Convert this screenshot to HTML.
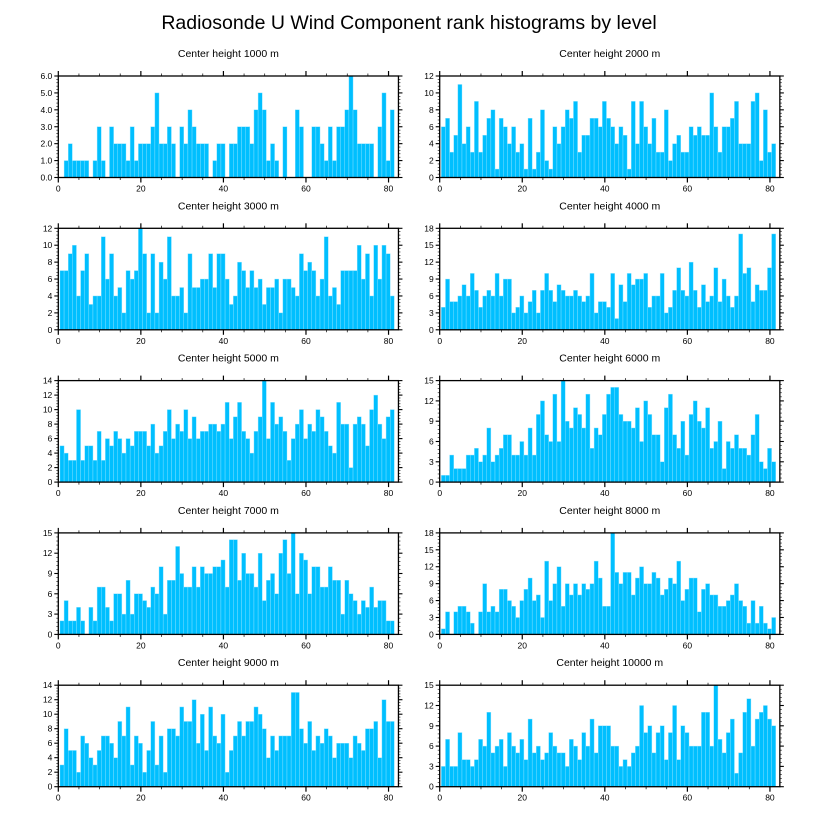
<!DOCTYPE html>
<html><head><meta charset="utf-8"><style>
html,body{margin:0;padding:0;background:#fff;}
svg{display:block;font-family:"Liberation Sans",sans-serif;}
</style></head><body>
<svg id="chart" width="818" height="824" viewBox="0 0 818 824" xmlns="http://www.w3.org/2000/svg">
<text x="409" y="29" text-anchor="middle" font-size="19.5">Radiosonde U Wind Component rank histograms by level</text>
</svg>
<script>
const levels = ["1000","2000","3000","4000","5000","6000","7000","8000","9000","10000"];
const yMaxes = [6,12,12,18,14,15,15,18,14,15];
const yStepsMajor = [1,2,2,3,2,3,3,3,2,3];
const xTicks = [0,20,40,60,80];
const counts1000 = [0,1,2,1,1,1,1,0,1,3,1,0,3,2,2,2,1,3,1,2,2,2,3,5,2,2,3,2,0,3,2,4,3,2,2,2,0,1,2,2,0,2,2,3,3,3,2,4,5,4,1,2,1,0,3,0,0,4,3,0,0,3,3,2,1,3,1,3,3,4,6,4,2,2,2,2,0,3,5,1,4];
const counts2000 = [6,7,3,5,11,4,6,3,9,3,5,7,8,1,7,6,4,6,3,4,1,7,1,3,8,2,1,6,4,6,8,7,9,3,5,5,7,7,6,9,7,6,4,6,5,1,9,4,9,6,4,7,3,3,8,2,4,5,3,3,6,5,6,5,5,10,6,3,6,6,7,9,4,4,4,9,10,2,8,3,4];
const counts3000 = [7,7,9,10,4,7,9,3,4,4,11,6,9,4,5,2,7,6,7,12,9,2,9,2,8,6,11,4,4,5,2,9,5,5,6,6,9,5,9,9,6,3,4,8,7,5,7,5,6,3,5,5,6,2,6,6,5,4,9,7,8,7,4,6,11,4,5,3,7,7,7,7,10,6,9,4,10,6,10,9,4];
const counts4000 = [4,9,5,5,6,8,6,10,7,4,6,7,6,10,6,9,9,3,4,6,3,5,7,3,7,10,7,5,8,7,6,6,7,6,5,6,10,3,5,5,4,10,2,8,5,10,8,9,9,10,4,6,6,10,3,4,7,11,7,6,12,7,4,8,5,6,11,5,9,6,4,6,17,10,11,5,8,7,7,11,17];
const counts5000 = [5,4,3,3,10,3,5,5,3,7,3,6,5,7,6,4,6,5,7,7,7,5,8,4,5,7,10,6,8,7,10,6,9,6,7,7,8,8,7,8,11,6,9,11,7,6,4,7,9,14,6,11,8,9,7,3,6,8,10,6,8,7,10,9,7,5,4,11,8,8,2,8,9,8,5,10,12,8,6,9,10];
const counts6000 = [1,1,4,2,2,2,4,4,5,3,4,8,3,4,5,7,7,4,4,6,4,8,4,10,12,7,6,13,6,15,9,8,11,10,8,13,5,8,7,10,13,14,14,10,9,9,8,11,6,12,10,7,7,3,11,13,7,5,9,4,10,12,9,8,11,5,6,9,2,6,5,7,5,5,4,7,10,3,2,5,3];
const counts7000 = [2,5,2,2,4,2,0,4,2,7,7,4,2,6,6,3,8,3,6,6,5,4,7,6,10,3,8,8,13,9,7,7,10,7,10,9,9,10,10,11,7,14,14,8,12,9,9,7,12,5,8,9,6,12,14,9,15,6,12,11,6,10,10,7,7,10,8,8,3,8,6,5,3,5,4,7,4,5,5,2,2];
const counts8000 = [1,4,0,4,5,5,4,2,0,4,9,4,5,4,8,8,6,5,3,6,8,10,6,7,3,13,6,9,12,5,9,7,9,7,9,8,9,13,10,5,5,18,11,9,11,11,7,10,12,9,9,11,10,7,8,10,9,13,6,8,10,10,4,8,9,7,7,5,5,6,7,9,6,5,2,6,2,5,2,1,3];
const counts9000 = [3,8,5,5,2,7,6,4,3,5,7,7,6,4,9,7,11,3,7,6,2,5,9,3,7,2,8,8,7,11,9,9,12,6,10,5,11,7,6,10,2,5,7,9,7,9,9,11,10,8,4,7,5,7,7,7,13,13,8,6,9,5,7,6,8,7,4,6,6,6,4,7,6,5,8,8,9,4,12,9,9];
const counts10000 = [3,7,3,3,8,4,4,3,4,7,6,11,5,6,7,3,8,6,5,7,4,10,5,6,4,5,8,6,5,5,3,7,6,4,8,6,10,5,9,9,9,6,6,3,4,3,5,6,12,8,9,5,8,9,4,8,12,4,9,8,6,6,6,11,11,6,15,7,5,8,10,2,5,11,13,6,10,11,12,10,9];
const allCounts = [counts1000,counts2000,counts3000,counts4000,counts5000,counts6000,counts7000,counts8000,counts9000,counts10000];

const NS = "http://www.w3.org/2000/svg";
const svg = document.getElementById("chart");
function mk(tag, attrs, parent){
  const e = document.createElementNS(NS, tag);
  for (const k in attrs) e.setAttribute(k, attrs[k]);
  (parent||svg).appendChild(e);
  return e;
}
const XMAX = 82.4;
for (let p = 0; p < 10; p++) {
  const col = p % 2, row = Math.floor(p / 2);
  const left = col === 0 ? 58.3 : 439.7;
  const width = 4.128 * XMAX;
  const top = 76 + 152.3 * row;
  const height = 101.5;
  const ymax = yMaxes[p], step = yStepsMajor[p];
  const sx = v => left + v / XMAX * width;
  const sy = v => top + height - v / ymax * height;
  const g = mk("g", {});
  
  
  const t = mk("text", {x: left + width/2, y: top - 19, "text-anchor": "middle", "font-size": "10.5"}, g);
  
  
  t.textContent = "Center height " + levels[p] + " m";
  const data = allCounts[p];
  for (let i = 0; i < data.length; i++) {
    const k = i + 1;
    if (data[i] <= 0) continue;
    const b = mk("rect", {x: sx(k - 0.6), y: sy(data[i]), width: sx(k + 0.4) - sx(k - 0.6), height: sy(0) - sy(data[i]), fill: "#00bfff", stroke: "#8fe3ff", "stroke-width": "0.4"}, g);
    
    
  }
  // x ticks
  for (let v = 0; v <= 80; v += 5) {
    const major = v % 20 === 0;
    const L = major ? 5 : 2.5;
    mk("line", {x1: sx(v), x2: sx(v), y1: top + height, y2: top + height + L, stroke: "#000", "stroke-width": major ? 1.2 : 0.7}, g);
    mk("line", {x1: sx(v), x2: sx(v), y1: top, y2: top - L, stroke: "#000", "stroke-width": major ? 1.2 : 0.7}, g);
  }
  for (const v of xTicks) {
    const tl = mk("text", {x: sx(v), y: top + height + 14, "text-anchor": "middle", "font-size": "8.5"}, g);
    
    
    tl.textContent = v;
  }
  // y ticks
  const minor = step / 5;
  for (let j = 0; j <= Math.round(ymax / minor); j++) {
    const v = j * minor;
    const major = j % 5 === 0;
    const L = major ? 4 : 2;
    mk("line", {x1: left, x2: left - L, y1: sy(v), y2: sy(v), stroke: "#000", "stroke-width": major ? 1.1 : 0.6}, g);
    mk("line", {x1: left + width, x2: left + width + L, y1: sy(v), y2: sy(v), stroke: "#000", "stroke-width": major ? 1.1 : 0.6}, g);
  }
  for (let v = 0; v <= ymax + 1e-9; v += step) {
    const yl = mk("text", {x: left - 6, y: sy(v) + 3, "text-anchor": "end", "font-size": "8.5"}, g);
    
    
    yl.textContent = p === 0 ? v.toFixed(1) : v;
  }
  const fr = mk("rect", {x: left, y: top, width: width, height: height, fill: "none", stroke: "#000", "stroke-width": "1.3"}, g);
  
  
}
</script>
</body></html>
